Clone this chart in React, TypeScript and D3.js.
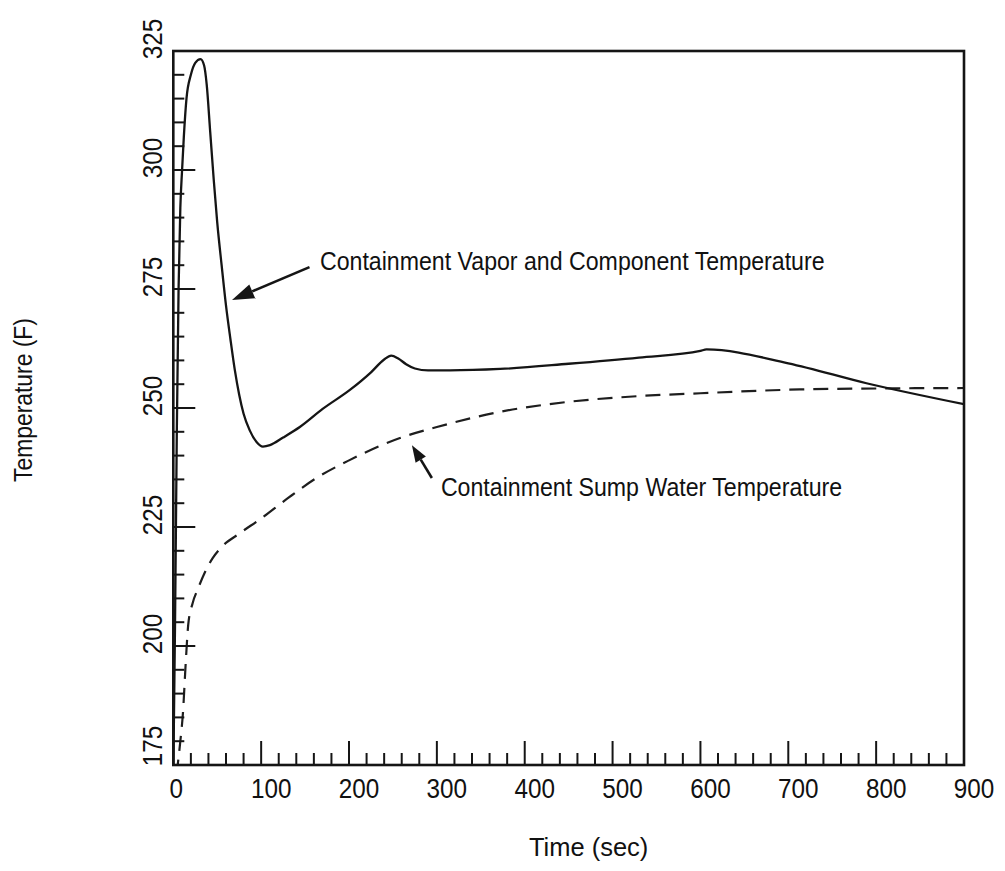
import React from "react";
import * as d3 from "d3";

// ---- Data ----
const vaporTime = [0, 2, 4, 6, 8, 10, 12, 15, 20, 25, 31, 35, 38, 42, 46, 50, 55, 60, 65, 70, 75, 80, 87, 95, 102, 110, 125, 144, 170, 201, 225, 240, 248, 256, 265, 275, 290, 315, 372, 450, 530, 600, 607, 700, 789, 900];
const vaporTemp = [173, 205, 245, 275, 292, 300, 307, 315, 320, 322.5, 323.3, 322, 318, 308, 298, 289, 280, 271.5, 264.5, 258, 252.8, 248.8, 245.3, 242.8, 241.9, 242.2, 243.8, 246, 249.8, 253.8, 257.5, 260.2, 261, 260.4, 259.2, 258.3, 257.9, 257.9, 258.2, 259.3, 260.6, 262, 262.3, 259.4, 255.2, 250.8];

const sumpTime = [0, 5, 8, 11, 14, 17, 22, 28, 36, 45, 55, 75, 100, 130, 163, 200, 258, 300, 372, 450, 530, 600, 713, 800, 900];
const sumpTemp = [168, 175, 180, 186, 196, 204.5, 209, 212, 215.5, 218.5, 220.8, 223.6, 226.8, 231, 235.3, 239, 243.7, 246, 249.2, 251.3, 252.5, 253.1, 253.9, 254.1, 254.2];

const xMajorTicks = [0, 100, 200, 300, 400, 500, 600, 700, 800, 900];
const yMajorTicks = [175, 200, 225, 250, 275, 300, 325];
const xMinorStep = 20;
const yMinorStep = 5;

const xAxisTitle = "Time (sec)";
const yAxisTitle = "Temperature (F)";
const vaporLabel = "Containment Vapor and Component Temperature";
const sumpLabel = "Containment Sump Water Temperature";

// annotation anchors in data coordinates: [time, temp]
const vaporLabelAt = [166.9, 279.0];
const vaporArrowTail = [155, 279.6];
const vaporArrowTip = [66.8, 272.7];
const sumpLabelAt = [304.6, 231.5];
const sumpArrowTail = [294.3, 235.3];
const sumpArrowTip = [271.6, 242.2];

const W = 1005;
const H = 871;
const PL = 173.3, PR = 964, PT = 51, PB = 765;
const FONT = "'Liberation Sans', Arial, Helvetica, sans-serif";
const INK = "#151515";

function Arrow({ x1, y1, x2, y2, headLen, headW }: any) {
  const ang = Math.atan2(y2 - y1, x2 - x1);
  const bx = x2 - headLen * Math.cos(ang);
  const by = y2 - headLen * Math.sin(ang);
  const px = -Math.sin(ang) * headW;
  const py = Math.cos(ang) * headW;
  return (
    <g>
      <line x1={x1} y1={y1} x2={bx} y2={by} stroke={INK} strokeWidth={2.6} />
      <path d={`M${x2},${y2}L${bx + px},${by + py}L${bx - px},${by - py}Z`} fill={INK} />
    </g>
  );
}

export default function App() {
  const x = d3.scaleLinear().domain([0, 900]).range([PL, PR]);
  const y = d3.scaleLinear().domain([175, 325]).range([PB, PT]);

  const vaporData = vaporTime.map((t, i) => [t, vaporTemp[i]] as [number, number]);
  const sumpData = sumpTime.map((t, i) => [t, sumpTemp[i]] as [number, number]);
  const line = d3
    .line<[number, number]>()
    .x((d) => x(d[0]))
    .y((d) => y(d[1]))
    .curve(d3.curveMonotoneX);

  const xMinor = d3.range(0, 900 + 0.001, xMinorStep).filter((v) => !xMajorTicks.includes(v));
  const yMinor = d3.range(175, 325 + 0.001, yMinorStep).filter((v) => !yMajorTicks.includes(v));

  return (
    <svg
      width={W}
      height={H}
      style={{ position: "absolute", left: 0, top: 0, background: "#fff" }}
      fontFamily={FONT}
    >
      <rect x={0} y={0} width={W} height={H} fill="#fff" />
      <defs>
        <clipPath id="plotclip">
          <rect x={PL} y={PT} width={PR - PL} height={PB - PT} />
        </clipPath>
      </defs>

      {/* curves */}
      <g clipPath="url(#plotclip)">
        <path d={line(sumpData) || ""} fill="none" stroke="#1e1e1e" strokeWidth={2.2} strokeDasharray="15,9" />
        <path d={line(vaporData) || ""} fill="none" stroke={INK} strokeWidth={2.3} />
      </g>

      {/* ticks */}
      <g stroke={INK} strokeWidth={2}>
        {xMinor.map((v) => (
          <line key={"xm" + v} x1={x(v)} x2={x(v)} y1={PB} y2={PB - 12} />
        ))}
        {xMajorTicks.map((v) => (
          <line key={"xM" + v} x1={x(v)} x2={x(v)} y1={PB} y2={PB - 24} />
        ))}
        {yMinor.map((v) => (
          <line key={"ym" + v} x1={PL} x2={PL + 11} y1={y(v)} y2={y(v)} />
        ))}
        {yMajorTicks.map((v) => (
          <line key={"yM" + v} x1={PL} x2={PL + 22} y1={y(v)} y2={y(v)} />
        ))}
      </g>

      {/* frame */}
      <rect x={PL} y={PT} width={PR - PL} height={PB - PT} fill="none" stroke={INK} strokeWidth={2.6} />

      {/* tick labels */}
      <g fill="#111" fontSize={27}>
        {xMajorTicks.map((v) => (
          <text
            key={"xl" + v}
            textAnchor="middle"
            transform={`translate(${x(v) + (v === 0 ? 3 : 10)},797.5) scale(0.9,1)`}
          >
            {v}
          </text>
        ))}
        {yMajorTicks.map((v, i) => (
          <text
            key={"yl" + v}
            textAnchor="middle"
            transform={`translate(161.5,${y(v) - (i === 0 ? 19 : 12)}) rotate(-90) scale(0.9,1)`}
          >
            {v}
          </text>
        ))}
      </g>

      {/* axis titles */}
      <text fontSize={26} fill="#111" textAnchor="middle" transform={`translate(${(PL + PR) / 2 + 20},856) scale(0.98,1)`}>
        {xAxisTitle}
      </text>
      <text fontSize={26} fill="#111" textAnchor="middle" transform={`translate(32,400) rotate(-90) scale(0.88,1)`}>
        {yAxisTitle}
      </text>

      {/* annotations */}
      <text fontSize={26} fill="#111" transform={`translate(${x(vaporLabelAt[0])},${y(vaporLabelAt[1])}) scale(0.89,1)`}>
        {vaporLabel}
      </text>
      <Arrow
        x1={x(vaporArrowTail[0])}
        y1={y(vaporArrowTail[1])}
        x2={x(vaporArrowTip[0])}
        y2={y(vaporArrowTip[1])}
        headLen={22}
        headW={7.5}
      />
      <text fontSize={26} fill="#111" transform={`translate(${x(sumpLabelAt[0])},${y(sumpLabelAt[1])}) scale(0.89,1)`}>
        {sumpLabel}
      </text>
      <Arrow
        x1={x(sumpArrowTail[0])}
        y1={y(sumpArrowTail[1])}
        x2={x(sumpArrowTip[0])}
        y2={y(sumpArrowTip[1])}
        headLen={17}
        headW={6}
      />
    </svg>
  );
}
